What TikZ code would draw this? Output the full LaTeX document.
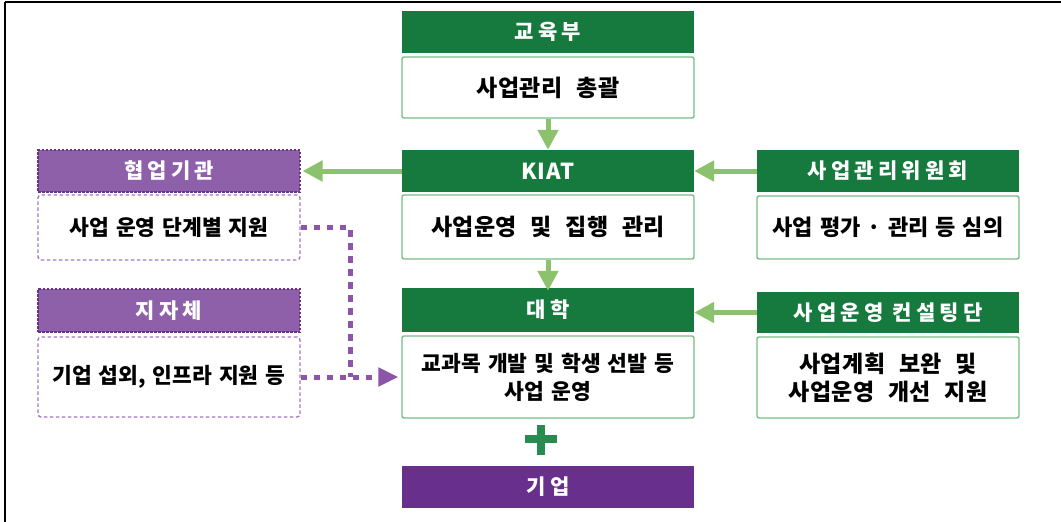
\documentclass[tikz,border=0pt]{standalone}
\usepackage{fontspec}
\usetikzlibrary{arrows.meta}
\newfontfamily\krh[LetterSpace=20]{Noto Sans CJK KR}
\newfontfamily\krk[LetterSpace=6]{Noto Sans CJK KR}
\newfontfamily\krb[LetterSpace=2,WordSpace=2.4]{Noto Sans CJK KR}
\newfontfamily\krt[WordSpace=1.1]{Noto Sans CJK KR}
\newfontfamily\krm[WordSpace=1.4]{Noto Sans CJK KR}
\definecolor{dkgreen}{RGB}{22,122,62}
\definecolor{ltgreen}{RGB}{120,190,135}
\definecolor{argreen}{RGB}{140,194,110}
\definecolor{plusgreen}{RGB}{40,140,80}
\definecolor{purpL}{RGB}{142,96,170}
\definecolor{purpD}{RGB}{104,48,140}
\definecolor{purpLine}{RGB}{140,85,170}
\definecolor{purpDot}{RGB}{160,120,195}
\begin{document}
\begin{tikzpicture}[x=1pt,y=-1pt,
  hdr/.style={fill=dkgreen, text=white, inner sep=0pt, minimum width=292pt,
    font=\krh\bfseries\fontsize{21}{24}\selectfont},
  body/.style={draw=ltgreen, line width=1.4pt, fill=white, rounded corners=2pt,
    inner sep=0pt, minimum width=292pt, align=center,
    font=\krb\bfseries\fontsize{23}{28}\selectfont},
  phdr/.style={fill=purpL, draw=purpD, line width=1.1pt, dash pattern=on 2.5pt off 1.5pt,
    text=white, inner sep=0pt, minimum width=262pt,
    font=\krh\bfseries\fontsize{21}{24}\selectfont},
  pbody/.style={draw=purpDot, line width=1.4pt, dash pattern=on 3.5pt off 2.5pt,
    rounded corners=3pt, fill=white, inner sep=0pt, minimum width=262pt, align=center,
    font=\krt\bfseries\fontsize{21.5}{27}\selectfont},
  garrow/.style={draw=argreen, line width=5pt, -{Triangle[length=20pt,width=20pt]}},
  pdot/.style={draw=purpLine, line width=5pt, dash pattern=on 6.5pt off 6.5pt}
]
\useasboundingbox (0,0) rectangle (1061,522);
\fill[white] (0,0) rectangle (1061,522);
% frame
\draw[line width=2pt] (4.7,2) -- (1061,2);
\draw[line width=1.8pt] (4.7,2) -- (4.7,522);

% centre column
\node[hdr, minimum height=42pt] (edu) at (548,32) {교육부};
\node[body, minimum height=61pt] (edub) at (548,87.5) {사업관리 총괄};
\node[hdr, minimum height=42pt, font=\krk\bfseries\fontsize{22}{24}\selectfont] (kiat) at (548,171) {KIAT};
\node[body, minimum height=64pt] (kiatb) at (548,227) {사업운영 및 집행 관리};
\node[hdr, minimum height=44pt] (univ) at (548,310) {대학};
\node[body, minimum height=82pt, font=\krt\bfseries\fontsize{21.5}{28}\selectfont] (univb) at (548,377) {교과목 개발 및 학생 선발 등\\사업 운영};
\node[hdr, fill=purpD, minimum height=42pt] (firm) at (548,487) {기업};

% plus sign
\fill[plusgreen] (525,435) rectangle (557,443);
\fill[plusgreen] (536.5,425) rectangle (544.5,455);

% left column
\node[phdr, minimum height=42pt] (hy) at (169,171) {협업기관};
\node[pbody, minimum height=65pt] (hyb) at (169,227.5) {사업 운영 단계별 지원};
\node[phdr, minimum height=43pt] (jj) at (169,310.5) {지자체};
\node[pbody, minimum height=80pt] (jjb) at (169,377) {기업 섭외, 인프라 지원 등};

% right column
\node[hdr, minimum width=262pt, minimum height=42pt] (cm) at (888,171) {사업관리위원회};
\node[body, minimum width=262pt, minimum height=63pt, font=\krm\bfseries\fontsize{22}{28}\selectfont] (cmb) at (888,227.5) {사업 평가 · 관리 등 심의};
\node[hdr, minimum width=262pt, minimum height=41pt] (ct) at (888,312.5) {사업운영 컨설팅단};
\node[body, minimum width=262pt, minimum height=81pt] (ctb) at (888,377.5) {사업계획 보완 및\\사업운영 개선 지원};

% green arrows
\draw[garrow] (edub.south) -- (kiat.north);
\draw[garrow] (kiatb.south) -- ([yshift=-3pt]univ.north);
\draw[garrow] (kiat.west) -- ([xshift=2pt]hy.east);
\draw[garrow] (cm.west) -- (kiat.east);
\draw[garrow] (ct.west) -- (ct.west -| univ.east);

% purple dotted connectors
\coordinate (jn) at (350,377);
\draw[pdot] (hyb.east) -| (jn);
\draw[pdot, -{Triangle[length=20pt,width=18pt]}] (jjb.east) -- ([xshift=-3pt]univb.west);
\end{tikzpicture}
\end{document}
